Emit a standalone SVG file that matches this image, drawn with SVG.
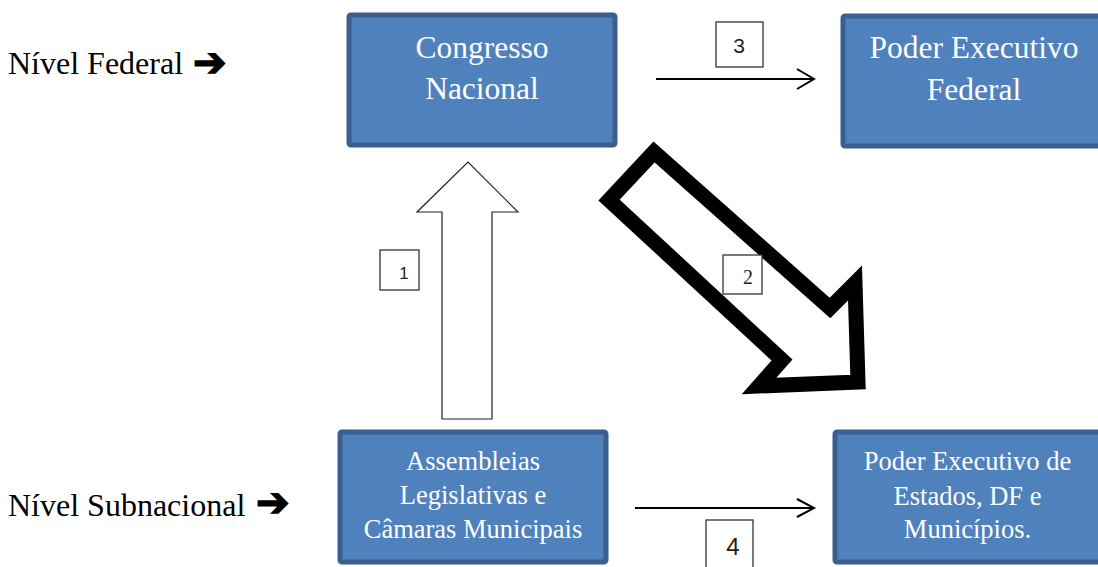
<svg xmlns="http://www.w3.org/2000/svg" width="1098" height="567" viewBox="0 0 1098 567">
<defs>
<style>
.node{fill:#4f81bd;stroke:#3a5f8e;stroke-width:5}
.nt{font-family:"Liberation Serif","Times New Roman",serif;fill:#ffffff;text-anchor:middle}
.lbl{font-family:"Liberation Serif","Times New Roman",serif;fill:#000;font-size:32px}
.sym{font-family:"DejaVu Sans",sans-serif;fill:#000;stroke:#000;stroke-width:1.5;font-size:40px}
.num{fill:#fff;stroke:#333;stroke-width:1.3}
.nn{font-family:"Liberation Sans",Arial,sans-serif;fill:#222;text-anchor:middle}
.line{stroke:#000;stroke-width:2;fill:none}
</style>
</defs>
<rect width="1098" height="567" fill="#fff"/>
<g id="label-federal"><text class="lbl" x="8" y="74">Nível Federal</text><text class="sym" x="193" y="76">➔</text></g>
<g id="label-subnacional"><text class="lbl" x="8" y="516">Nível Subnacional</text><text class="sym" x="256" y="516">➔</text></g>
<g id="connectors">
<polygon points="442,419 492,419 492,212 518,212 468,162 417,212 442,212" fill="#fff" stroke="#222" stroke-width="1.2" stroke-linejoin="miter"/>
<polygon points="654,152 609,200 782,360 759,386 858,382 855,283 830,308" fill="#fff" stroke="#000" stroke-width="15" stroke-linejoin="miter"/>
<line class="line" x1="656" y1="79" x2="814" y2="79"/>
<polyline class="line" points="797,69 814,79 797,89"/>
<line class="line" x1="635" y1="508" x2="814" y2="508"/>
<polyline class="line" points="797,499 814,508 797,517"/>
</g>
<g id="node-congresso"><rect class="node" x="349" y="15" width="266" height="130" rx="2"/><text class="nt" font-size="31.5" x="482" y="58">Congresso</text><text class="nt" font-size="31.5" x="482" y="99">Nacional</text></g>
<g id="node-executivo-federal"><rect class="node" x="843" y="16" width="270" height="130" rx="2"/><text class="nt" font-size="31.5" x="974" y="58">Poder Executivo</text><text class="nt" font-size="31.5" x="974" y="100">Federal</text></g>
<g id="node-assembleias"><rect class="node" x="340" y="432" width="266" height="130" rx="2"/><text class="nt" font-size="26.5" x="473" y="470">Assembleias</text><text class="nt" font-size="26.5" x="473" y="504">Legislativas e</text><text class="nt" font-size="26.5" x="473" y="538">Câmaras Municipais</text></g>
<g id="node-executivo-sub"><rect class="node" x="835" y="432" width="270" height="130" rx="2"/><text class="nt" font-size="26.5" x="967.5" y="470">Poder Executivo de</text><text class="nt" font-size="26.5" x="967.5" y="505">Estados, DF e</text><text class="nt" font-size="26.5" x="967.5" y="538">Municípios.</text></g>
<g id="num-1"><rect class="num" x="380" y="250" width="39" height="40"/><text class="nn" font-size="17" x="404" y="279">1</text></g>
<g id="num-2"><rect class="num" x="723" y="255" width="39" height="39"/><text font-family="Liberation Serif,serif" fill="#222" text-anchor="middle" font-size="20" x="748" y="284">2</text></g>
<g id="num-3"><rect class="num" x="716" y="22" width="47" height="45"/><text class="nn" font-size="21" x="739" y="53">3</text></g>
<g id="num-4"><rect class="num" x="706" y="520" width="47" height="52"/><text class="nn" font-size="24" x="733" y="555">4</text></g>
</svg>
